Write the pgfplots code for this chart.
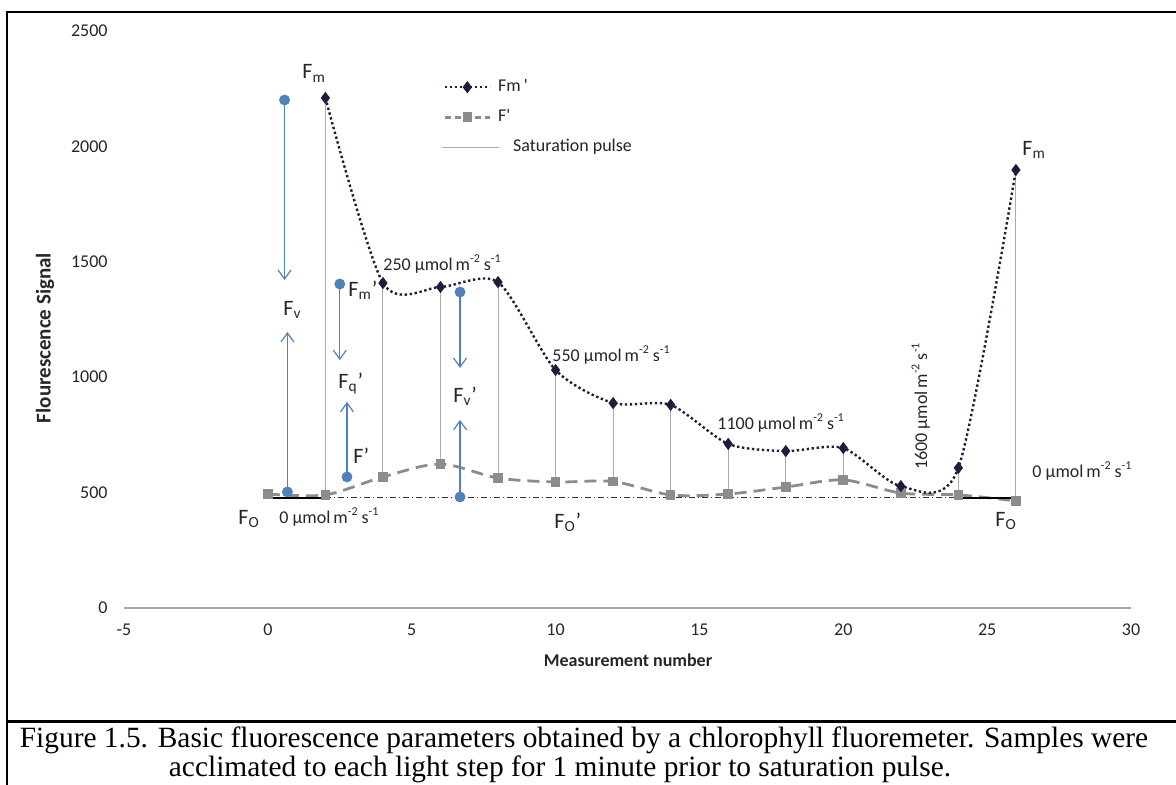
\documentclass[border=0pt]{standalone}
\usepackage{fontspec}
\setmainfont{Carlito}
\newfontfamily\captionfont{Liberation Serif}
\usepackage{pgfplots}
\usepackage{pgfplotstable}
\pgfplotsset{compat=1.18}
\usetikzlibrary{arrows.meta}

\definecolor{fmcol}{HTML}{1B1F3B}
\definecolor{fpcol}{HTML}{8C8C8C}
\definecolor{pulsecol}{HTML}{ABABAB}
\definecolor{arrowcol}{HTML}{4F81BD}
\definecolor{axiscol}{HTML}{A6A6A6}
\definecolor{txt}{HTML}{262626}

% Fm' : maximal fluorescence after each saturation pulse
\pgfplotstableread{
x   y
2   2210
4   1408
6   1391
8   1412
10  1031
12  888
14  880
16  711
18  680
20  693
22  528
24  607
26  1898
}\fmdata

% F' : steady-state fluorescence just before each pulse
\pgfplotstableread{
x   y
0   494
2   490
4   568
6   624
8   563
10  546
12  548
14  490
16  494
18  524
20  555
22  498
24  490
26  464
}\fpdata

\tikzset{
  fmstyle/.style={color=fmcol, line width=1.2pt, dash pattern=on 1.2pt off 1.3pt,
    mark=diamond*, mark size=2.1pt, mark options={solid, fill=fmcol}},
  fpstyle/.style={color=fpcol, line width=1.4pt, dash pattern=on 6pt off 3.5pt,
    mark=square*, mark size=1.7pt, mark options={solid, fill=fpcol}},
  pulsestyle/.style={color=pulsecol, line width=0.5pt},
  bluearrow/.style={color=arrowcol, line width=0.7pt, -{Straight Barb[length=4.5pt,width=6.5pt,line width=0.6pt]}},
  bluedot/.style={only marks, mark=*, mark size=2.5pt, color=arrowcol},
  flabel/.style={anchor=base west, inner sep=0pt, text=txt, font=\fontsize{11}{12}\selectfont},
  llabel/.style={anchor=base west, inner sep=0pt, text=txt, font=\fontsize{9}{10}\selectfont},
}
\newcommand{\unit}{µmol\,m\textsuperscript{-2}\,s\textsuperscript{-1}}

\begin{document}
\begin{tikzpicture}
\useasboundingbox (0,0) rectangle (588pt,392pt);

% figure frame and caption rule
\draw[line width=1.1pt] (3.5pt,-2pt) -- (3.5pt,386pt) -- (592pt,386pt);
\draw[line width=1.1pt] (3.5pt,31.3pt) -- (592pt,31.3pt);

\begin{axis}[
  at={(62pt,88pt)}, anchor=south west,
  scale only axis, width=503.5pt, height=288.5pt,
  xmin=-5, xmax=30, ymin=0, ymax=2500,
  axis x line*=bottom, axis y line*=left,
  x axis line style={color=axiscol, line width=1pt},
  y axis line style={draw=none},
  major tick length=0pt, tick style={draw=none},
  xtick={-5,0,5,10,15,20,25,30},
  xticklabels={-5,0,5,10,15,20,25,30},
  ytick={0,500,1000,1500,2000,2500},
  yticklabels={0,500,1000,1500,2000,2500},
  xticklabel style={font=\fontsize{9}{10}\selectfont, text=txt, anchor=center, yshift=-11pt},
  yticklabel style={font=\fontsize{9}{10}\selectfont, text=txt, anchor=east, inner sep=0pt, xshift=-8pt},
  clip=false,
  unbounded coords=jump,
  legend style={at={(0.3168,0.918)}, anchor=north west, draw=none, fill=none,
    inner sep=0pt, row sep=6.5pt, column sep=3.5pt,
    font=\fontsize{9}{10}\selectfont, text=txt,
    nodes={inner sep=0pt, text height=6.5pt, text depth=2pt}},
  legend cell align=left,
]
% legend entries
\addlegendimage{fmstyle, legend image code/.code={%
  \draw[mark repeat=2,mark phase=2] plot coordinates {(0pt,0pt)(11.25pt,0pt)(22.5pt,0pt)};}}
\addlegendentry{Fm\,\textquotesingle}
\addlegendimage{fpstyle, dash pattern=on 3pt off 2pt, legend image code/.code={%
  \draw[mark repeat=2,mark phase=2] plot coordinates {(0pt,0pt)(11.25pt,0pt)(22.5pt,0pt)};}}
\addlegendentry{F\textquotesingle}
\addlegendimage{pulsestyle, legend image code/.code={%
  \draw[overlay] (-1.5pt,0pt) -- (27pt,0pt); \path (0pt,0pt) (22.5pt,0pt);}}
\addlegendentry{\hspace{7.5pt}Saturation pulse}

% saturation pulses: from F' up to Fm'
\addplot[pulsestyle, forget plot] coordinates {
  (2,490) (2,2210) (2,nan)
  (4,568) (4,1408) (4,nan)
  (6,624) (6,1391) (6,nan)
  (8,563) (8,1412) (8,nan)
  (10,546) (10,1031) (10,nan)
  (12,548) (12,888) (12,nan)
  (14,490) (14,880) (14,nan)
  (16,494) (16,711) (16,nan)
  (18,524) (18,680) (18,nan)
  (20,555) (20,693) (20,nan)
  (22,498) (22,528) (22,nan)
  (24,490) (24,607) (24,nan)
  (26,464) (26,1898)
};

% F0' baseline under actinic light
\addplot[forget plot, color=black!80, line width=0.5pt, dash pattern=on 3pt off 1.5pt on 0.5pt off 1.5pt]
  coordinates {(2,477) (24,477)};

% F' and Fm'
\addplot[fpstyle, smooth, tension=0.5, forget plot] table[x=x, y=y] {\fpdata};
\addplot[fmstyle, smooth, tension=0.45, forget plot] table[x=x, y=y] {\fmdata};

% F0 in darkness
\addplot[forget plot, black, line width=1pt] coordinates {(0,477) (2,477)};
\addplot[forget plot, black, line width=1pt] coordinates {(24,477) (26,477)};

% Fv
\addplot[bluearrow, forget plot] coordinates {(0.58,2201) (0.58,1421)};
\addplot[bluearrow, forget plot] coordinates {(0.68,503) (0.68,1196)};
\addplot[bluedot, forget plot] coordinates {(0.58,2201) (0.68,503)};
% Fq'
\addplot[bluearrow, forget plot] coordinates {(2.5,1404) (2.5,1074)};
\addplot[bluearrow, forget plot] coordinates {(2.75,568) (2.75,893)};
\addplot[bluedot, forget plot] coordinates {(2.5,1404) (2.75,568)};
% Fv'
\addplot[bluearrow, forget plot] coordinates {(6.68,1369) (6.68,1040)};
\addplot[bluearrow, forget plot] coordinates {(6.68,481) (6.68,815)};
\addplot[bluedot, forget plot] coordinates {(6.68,1369) (6.68,481)};
\end{axis}

% axis titles
\node[rotate=90, font=\bfseries\fontsize{10.5}{12}\selectfont, text=txt] at (22.5pt,223pt) {Flourescence Signal};
\node[font=\bfseries\fontsize{9}{11}\selectfont, text=txt] at (314pt,62pt) {Measurement number};

% parameter labels
\node[flabel] at (151pt,352.5pt) {F\textsubscript{m}};
\node[flabel] at (511pt,314.5pt) {F\textsubscript{m}};
\node[flabel] at (141.5pt,234.5pt) {F\textsubscript{v}};
\node[flabel] at (174pt,244pt) {F\textsubscript{m}’};
\node[flabel] at (169pt,198pt) {F\textsubscript{q}’};
\node[flabel] at (176.5pt,160.5pt) {F’};
\node[flabel] at (226.5pt,191pt) {F\textsubscript{v}’};
\node[flabel] at (119pt,130pt) {F\textsubscript{O}};
\node[flabel] at (277pt,128pt) {F\textsubscript{O}’};
\node[flabel] at (497.5pt,129pt) {F\textsubscript{O}};

% light levels
\node[llabel] at (139.5pt,130.5pt) {0 \unit};
\node[llabel] at (191.5pt,257pt) {250 \unit};
\node[llabel] at (276pt,211.5pt) {550 \unit};
\node[llabel] at (358.5pt,177.5pt) {1100 \unit};
\node[llabel, rotate=90] at (463.5pt,157pt) {1600 \unit};
\node[llabel] at (516pt,153.5pt) {0 \unit};

% caption
\node[anchor=base, inner sep=0pt, font=\captionfont\fontsize{14.7}{17}\selectfont] at (292pt,18.2pt)
  {Figure 1.5. Basic fluorescence parameters obtained by a chlorophyll fluoremeter. Samples were};
\node[anchor=base, inner sep=0pt, font=\captionfont\fontsize{14.7}{17}\selectfont] at (280pt,3.6pt)
  {acclimated to each light step for 1 minute prior to saturation pulse.};
\end{tikzpicture}
\end{document}
